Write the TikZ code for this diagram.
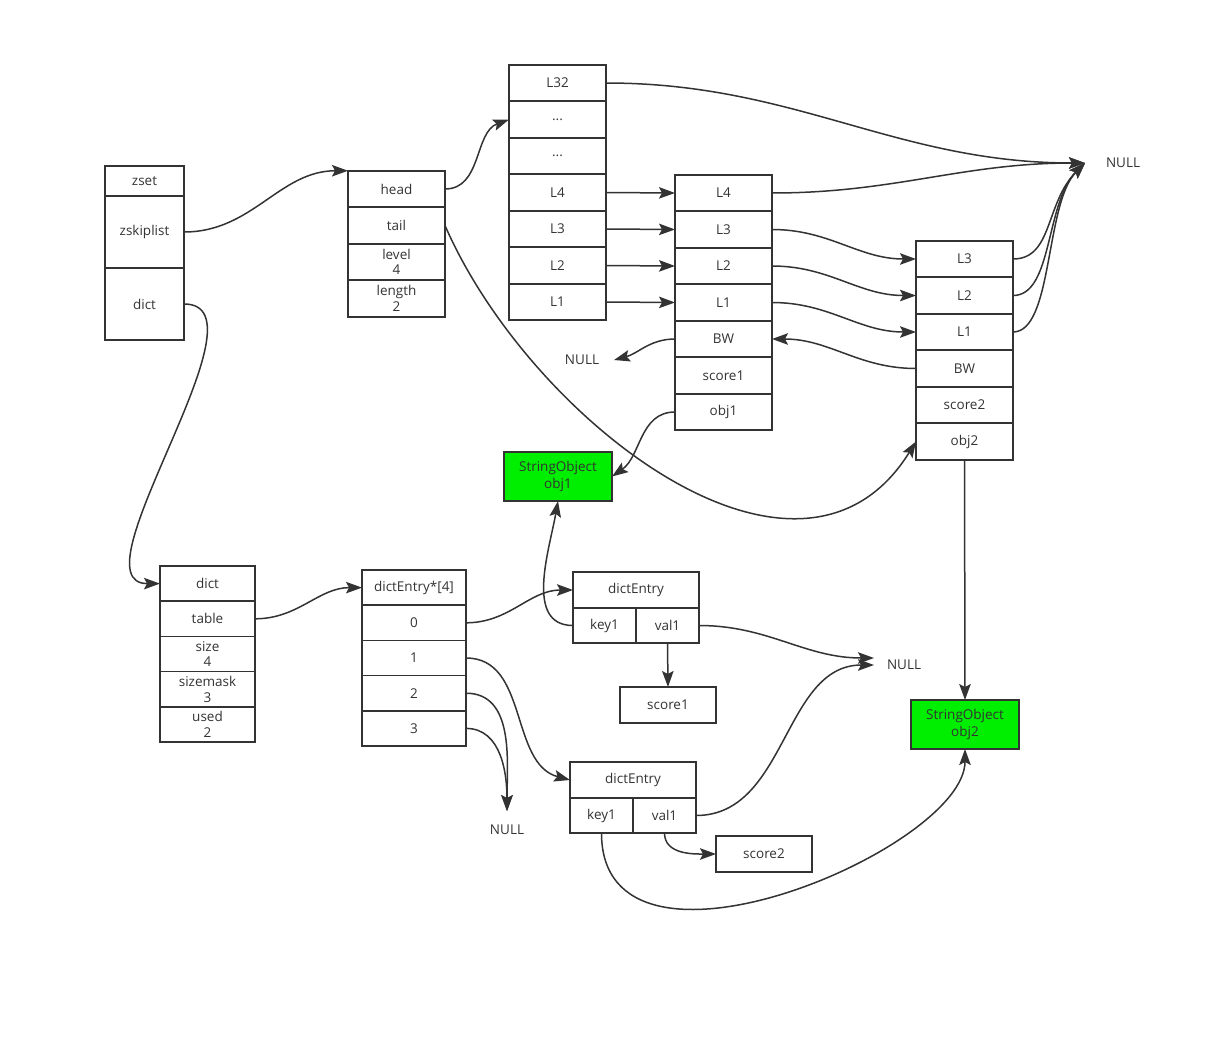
\documentclass[tikz,border=0pt]{standalone}
\usepackage{fontspec}
\setmainfont{Open Sans}
\usetikzlibrary{arrows.meta, positioning}
\definecolor{linegray}{RGB}{51, 51, 51}
\definecolor{objgreen}{RGB}{0, 238, 0}

\tikzset{
  cell/.style={draw=linegray, line width=1.6pt, minimum width=97pt, minimum height=36.5pt,
    inner sep=0pt, outer sep=0pt, align=center, text=linegray, font=\fontsize{13.5}{15.5}\selectfont},
  strobj/.style={cell, fill=objgreen, minimum width=108pt, minimum height=49pt, font=\fontsize{13.5}{16.5}\selectfont},
  nulltxt/.style={text=linegray, font=\fontsize{13.5}{15.5}\selectfont, inner sep=0pt, outer sep=14pt},
  link/.style={draw=linegray, line width=1.5pt, -{Stealth[length=16pt, width=11.5pt, inset=3pt]}},
}

\begin{document}
\begin{tikzpicture}[x=1pt, y=1pt]
  \useasboundingbox (0,0) rectangle (1222,-1044);

  % zset
  \node[cell, minimum width=79pt, minimum height=30pt] (zset) at (144.5,-181) {zset};
  \node[cell, minimum width=79pt, minimum height=72pt, below=0pt of zset] (zsl) {zskiplist};
  \node[cell, minimum width=79pt, minimum height=72pt, below=0pt of zsl] (zdict) {dict};

  % zskiplist
  \node[cell] (head) at (396.5,-189) {head};
  \node[cell, below=0pt of head] (tail) {tail};
  \node[cell, below=0pt of tail] (level) {level\\4};
  \node[cell, below=0pt of level] (length) {length\\2};

  % header node
  \node[cell] (hL32) at (557.5,-83) {L32};
  \node[cell, below=0pt of hL32] (hDotsA) {...};
  \node[cell, below=0pt of hDotsA] (hDotsB) {...};
  \node[cell, below=0pt of hDotsB] (hL4) {L4};
  \node[cell, below=0pt of hL4] (hL3) {L3};
  \node[cell, below=0pt of hL3] (hL2) {L2};
  \node[cell, below=0pt of hL2] (hL1) {L1};

  % first node
  \node[cell] (aL4) at (723.5,-193) {L4};
  \node[cell, below=0pt of aL4] (aL3) {L3};
  \node[cell, below=0pt of aL3] (aL2) {L2};
  \node[cell, below=0pt of aL2] (aL1) {L1};
  \node[cell, below=0pt of aL1] (aBW) {BW};
  \node[cell, below=0pt of aBW] (aScore) {score1};
  \node[cell, below=0pt of aScore] (aObj) {obj1};

  % second node
  \node[cell] (bL3) at (964.5,-259) {L3};
  \node[cell, below=0pt of bL3] (bL2) {L2};
  \node[cell, below=0pt of bL2] (bL1) {L1};
  \node[cell, below=0pt of bL1] (bBW) {BW};
  \node[cell, below=0pt of bBW] (bScore) {score2};
  \node[cell, below=0pt of bScore] (bObj) {obj2};

  % string objects
  \node[strobj] (strA) at (558,-476.5) {StringObject\\obj1};
  \node[strobj] (strB) at (965,-724.5) {StringObject\\obj2};

  % dict
  \node[cell, minimum width=95pt, minimum height=35.2pt] (dict) at (207.5,-583.6) {dict};
  \node[cell, minimum width=95pt, minimum height=35.2pt, below=0pt of dict] (table) {table};
  \node[cell, minimum width=95pt, minimum height=35.2pt, below=0pt of table] (size) {size\\4};
  \node[cell, minimum width=95pt, minimum height=35.2pt, below=0pt of size] (sizemask) {sizemask\\3};
  \node[cell, minimum width=95pt, minimum height=35.2pt, below=0pt of sizemask] (used) {used\\2};

  % table slots
  \node[cell, minimum width=104pt, minimum height=35.2pt] (slots) at (414,-587.6) {dictEntry*[4]};
  \node[cell, minimum width=104pt, minimum height=35.2pt, below=0pt of slots] (s0) {0};
  \node[cell, minimum width=104pt, minimum height=35.2pt, below=0pt of s0] (s1) {1};
  \node[cell, minimum width=104pt, minimum height=35.2pt, below=0pt of s1] (s2) {2};
  \node[cell, minimum width=104pt, minimum height=35.2pt, below=0pt of s2] (s3) {3};

  % dict entries
  \node[cell, minimum width=126pt, minimum height=36pt] (entA) at (636,-590) {dictEntry};
  \node[cell, minimum width=63pt, minimum height=35pt, below right=0pt and 0pt of entA.south west] (entAkey) {key1};
  \node[cell, minimum width=63pt, minimum height=35pt, right=0pt of entAkey] (entAval) {val1};
  \node[cell, minimum width=96pt, minimum height=36pt] (scoreA) at (668,-705) {score1};

  \node[cell, minimum width=126pt, minimum height=36pt] (entB) at (633,-780) {dictEntry};
  \node[cell, minimum width=63pt, minimum height=35pt, below right=0pt and 0pt of entB.south west] (entBkey) {key1};
  \node[cell, minimum width=63pt, minimum height=35pt, right=0pt of entBkey] (entBval) {val1};
  \node[cell, minimum width=96pt, minimum height=36pt] (scoreB) at (764,-854) {score2};

  % NULL targets
  \node[nulltxt, outer sep=21pt] (nullTop) at (1123,-163) {NULL};
  \node[nulltxt, outer sep=15pt] (nullBW) at (582,-360) {NULL};
  \node[nulltxt, outer sep=13pt] (nullMid) at (904,-665) {NULL};
  \node[nulltxt, outer sep=14pt] (nullBot) at (507,-830) {NULL};

  % skiplist links
  \draw[link] (zsl.east) to[out=0, in=180] (head.north west);
  \draw[link] (head.east) to[out=0, in=200] (hDotsA.west);
  \draw[link] (tail.east) .. controls +(85,-195) and +(-116,-187) .. (bObj.west);
  \draw[link] (hL32.east) to[out=0, in=180] (nullTop.west);
  \foreach \l in {L4,L3,L2,L1}
    \draw[link] (h\l.east) -- (a\l.west);
  \draw[link] (aL4.east) to[out=0, in=180] (nullTop.west);
  \foreach \l in {L3,L2,L1}
    \draw[link] (a\l.east) to[out=0, in=180] (b\l.west);
  \foreach \l in {L3,L2,L1}
    \draw[link] (b\l.east) .. controls +(40,0) and +(-40,-40) .. (nullTop.west);
  \draw[link] (bBW.west) to[out=180, in=0] (aBW.east);
  \draw[link] (aBW.west) to[out=180, in=15] (nullBW.east);
  \draw[link] (aObj.west) to[out=180, in=35] (strA.east);
  \draw[link] (bObj.south) -- (strB.north);

  % dict links
  \draw[link] (zdict.east) .. controls +(90,0) and +(-90,0) .. (dict.west);
  \draw[link] (table.east) to[out=0, in=180] (slots.west);
  \draw[link] (s0.east) to[out=0, in=180] (entA.west);
  \draw[link] (entAkey.west) to[out=180, in=-100] (strA.south);
  \draw[link] (entAval.south) -- (scoreA.north);
  \draw[link] (entAval.east) to[out=0, in=180] ([yshift=7pt]nullMid.west);
  \draw[link] (s1.east) to[out=0, in=165] (entB.west);
  \draw[link] (s2.east) to[out=0, in=90] (nullBot.north);
  \draw[link] (s3.east) to[out=0, in=90] (nullBot.north);
  \draw[link] (entBval.east) to[out=0, in=180] (nullMid.west);
  \draw[link] (entBval.south) to[out=-90, in=180] (scoreB.west);
  \draw[link] (entBkey.south) .. controls +(0,-170) and +(0,-100) .. (strB.south);
\end{tikzpicture}
\end{document}
